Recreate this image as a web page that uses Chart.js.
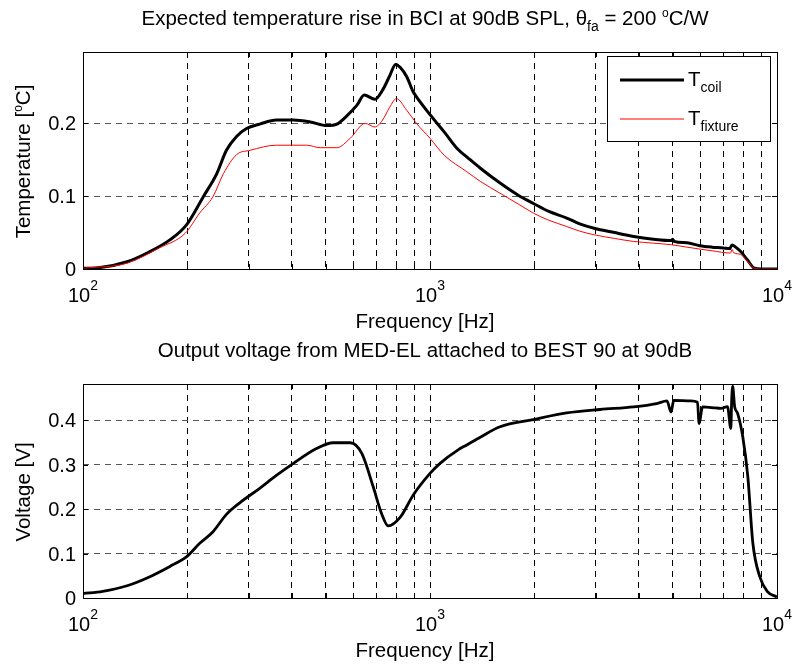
<!DOCTYPE html>
<html>
<head>
<meta charset="utf-8">
<script src="https://cdn.jsdelivr.net/npm/chart.js@4.4.1/dist/chart.umd.min.js"></script>
<style>
  body { margin: 0; background: #fff; }
  #wrap { position: relative; width: 792px; height: 664px; }
  canvas { position: absolute; left: 0; top: 0; }
</style>
</head>
<body>
<div id="wrap">
  <canvas id="topChart" width="792" height="664"></canvas>
  <canvas id="bottomChart" width="792" height="664"></canvas>
</div>
<script>
// x axis (log), shared by both plots
const xGridFreqs = [100, 200, 300, 400, 500, 600, 700, 800, 900,
                    1000, 2000, 3000, 4000, 5000, 6000, 7000, 8000, 9000, 10000];
const xDecades = [100, 1000, 10000];
const xDecadeExp = ['2', '3', '4'];

const tempTicks = [0, 0.1, 0.2];
const tempTickLabels = ['0', '0.1', '0.2'];
const voltTicks = [0, 0.1, 0.2, 0.3, 0.4];
const voltTickLabels = ['0', '0.1', '0.2', '0.3', '0.4'];

// T_coil (black)
const coilFreq = [100, 112, 134, 153, 178, 199, 222, 243, 259, 277, 296, 323, 361, 404, 451, 505, 539,
                  575, 616, 646, 694, 730, 765, 796, 820, 857, 895, 914, 1000, 1100, 1205, 1276, 1400,
                  1592, 1800, 1986, 2200, 2477, 2700, 2971, 3400, 3866, 4400, 4966, 5000, 5050, 5500,
                  5985, 6500, 6998, 7300, 7420, 7600, 7860, 8200, 8616, 9000, 10000];
const coilTemp = [0.001, 0.002, 0.010, 0.022, 0.040, 0.061, 0.099, 0.131, 0.163, 0.182, 0.193, 0.199, 0.2045,
                  0.2045, 0.202, 0.197, 0.199, 0.210, 0.225, 0.239, 0.233, 0.2456, 0.265, 0.281, 0.277,
                  0.264, 0.243, 0.2365, 0.212, 0.188, 0.164, 0.154, 0.138, 0.118, 0.101, 0.090, 0.079,
                  0.070, 0.062, 0.056, 0.050, 0.0447, 0.041, 0.039, 0.041, 0.038, 0.036, 0.032, 0.030,
                  0.029, 0.028, 0.033, 0.030, 0.024, 0.013, 0.001, 0, 0];

// T_fixture (red)
const fixtureFreq = [100, 134, 166, 197, 217, 237, 254, 277, 303, 361, 441, 483, 539, 589, 650, 694, 730,
                     765, 800, 857, 914, 1000, 1100, 1276, 1400, 1592, 1800, 1986, 2200, 2477, 2700, 2971,
                     3400, 3866, 4400, 4966, 5500, 5985, 6500, 7350, 7420, 7500, 7860, 8200, 8616, 9000, 10000];
const fixtureTemp = [0.001, 0.008, 0.029, 0.049, 0.077, 0.0995, 0.131, 0.157, 0.163, 0.170, 0.170, 0.1666,
                     0.1666, 0.1795, 0.200, 0.195, 0.2045, 0.222, 0.234, 0.218, 0.200, 0.1795, 0.156, 0.1337,
                     0.120, 0.104, 0.089, 0.0767, 0.067, 0.0584, 0.052, 0.047, 0.042, 0.0378, 0.0355, 0.0333,
                     0.030, 0.0274, 0.025, 0.0219, 0.027, 0.0225, 0.020, 0.011, 0.001, 0, 0];

// output voltage (black)
const voltFreq = [100, 114, 134, 153, 178, 199, 217, 237, 259, 283, 323, 360, 404, 471, 526, 589, 636, 686,
                  725, 758, 820, 895, 1000, 1069, 1205, 1276, 1400, 1592, 1986, 2477, 3090, 3866, 4500,
                  4820, 4950, 5040, 5643, 5900, 5963, 6100, 6500, 6903, 7200, 7361, 7400, 7450, 7550, 7700,
                  7970, 8240, 8520, 8920, 9370, 10000];
const voltage = [0.010, 0.015, 0.0276, 0.045, 0.071, 0.093, 0.123, 0.149, 0.188, 0.214, 0.2466, 0.275, 0.3027,
                 0.336, 0.349, 0.349, 0.325, 0.250, 0.190, 0.162, 0.181, 0.2316, 0.280, 0.3027, 0.333, 0.344,
                 0.362, 0.3848, 0.401, 0.416, 0.4237, 0.4296, 0.437, 0.443, 0.418, 0.444, 0.443, 0.440, 0.392,
                 0.4296, 0.428, 0.426, 0.430, 0.381, 0.440, 0.476, 0.430, 0.415, 0.362, 0.273, 0.123, 0.048,
                 0.015, 0.002];

const FONT = '"Liberation Sans", Arial, Helvetica, sans-serif';
const TICK_SIZE = 20, LABEL_SIZE = 20.5, SMALL = 14, DEG = 12;

const toPoints = (xs, ys) => xs.map((x, i) => ({x: x, y: ys[i]}));

// text with sub/superscripts, parts = [[text, ''|'sub'|'sup'|'deg'], ...]
function drawRich(ctx, parts, x, y, align, size) {
  const big = size || LABEL_SIZE;
  const sizeFor = k => k === 'deg' ? DEG : k ? SMALL : big;
  const shift = {'': 0, sub: 6, sup: -12, deg: -8};
  let w = 0;
  parts.forEach(([t, k]) => { ctx.font = sizeFor(k) + 'px ' + FONT; w += ctx.measureText(t).width; });
  let cx = align === 'center' ? x - w / 2 : align === 'right' ? x - w : x;
  ctx.textAlign = 'left';
  ctx.textBaseline = 'alphabetic';
  parts.forEach(([t, k]) => {
    ctx.font = sizeFor(k) + 'px ' + FONT;
    ctx.fillText(t, cx, y + shift[k]);
    cx += ctx.measureText(t).width;
  });
}

const matlabAxes = {
  id: 'matlabAxes',
  afterDraw(chart, args, opts) {
    const {ctx, chartArea: a, scales: {x, y}} = chart;
    ctx.save();
    ctx.strokeStyle = '#000';
    ctx.fillStyle = '#000';
    ctx.lineWidth = 1;

    // tick marks, inside, all four sides
    ctx.beginPath();
    xGridFreqs.forEach(f => {
      const px = Math.round(x.getPixelForValue(f)) + 0.5;
      ctx.moveTo(px, a.bottom); ctx.lineTo(px, a.bottom - 5);
      ctx.moveTo(px, a.top); ctx.lineTo(px, a.top + 5);
    });
    opts.yTicks.forEach(v => {
      const py = Math.round(y.getPixelForValue(v)) + 0.5;
      ctx.moveTo(a.left, py); ctx.lineTo(a.left + 5, py);
      ctx.moveTo(a.right, py); ctx.lineTo(a.right - 5, py);
    });
    ctx.stroke();
    ctx.strokeRect(Math.round(a.left) + 0.5, Math.round(a.top) + 0.5,
                   Math.round(a.right - a.left), Math.round(a.bottom - a.top));

    // tick labels
    xDecades.forEach((f, i) => {
      drawRich(ctx, [['10', ''], [xDecadeExp[i], 'sup']], x.getPixelForValue(f), a.bottom + 33, 'center', TICK_SIZE);
    });
    ctx.font = TICK_SIZE + 'px ' + FONT;
    ctx.textAlign = 'right';
    opts.yTicks.forEach((v, i) => {
      ctx.fillText(opts.yLabels[i], a.left - 7, y.getPixelForValue(v) + 7);
    });

    // titles and axis labels (MATLAB centres them slightly left of the axes middle)
    const mid = (a.left + a.right) / 2 - 5;
    drawRich(ctx, opts.title, mid, a.top - 27, 'center');
    drawRich(ctx, [['Frequency [Hz]', '']], mid, a.bottom + 59, 'center');
    ctx.save();
    ctx.translate(30, (a.top + a.bottom) / 2 + 1);
    ctx.rotate(-Math.PI / 2);
    drawRich(ctx, opts.yTitle, 0, 0, 'center');
    ctx.restore();

    // legend
    if (opts.legend) {
      ctx.fillStyle = '#fff';
      ctx.fillRect(608, 57, 162, 84);
      ctx.strokeRect(607.5, 56.5, 163, 85);
      ctx.fillStyle = '#000';
      opts.legend.forEach((item, i) => {
        const ly = 80 + i * 39;
        ctx.beginPath();
        ctx.strokeStyle = item.color;
        ctx.lineWidth = item.width;
        ctx.moveTo(620, ly); ctx.lineTo(684, ly);
        ctx.stroke();
        drawRich(ctx, [['T', ''], [item.sub, 'sub']], 688, ly + 6, 'left');
      });
    }
    ctx.restore();
  }
};

function baseScales(yMax, yTicks) {
  return {
    x: {
      type: 'logarithmic', min: 100, max: 10000,
      afterBuildTicks: s => { s.ticks = xGridFreqs.map(v => ({value: v})); },
      ticks: {display: false, autoSkip: false},
      grid: {color: '#000', lineWidth: 1, drawTicks: false},
      border: {display: false, dash: [6, 5]}
    },
    y: {
      type: 'linear', min: 0, max: yMax,
      afterBuildTicks: s => { s.ticks = yTicks.map(v => ({value: v})); },
      ticks: {display: false},
      grid: {color: '#555', lineWidth: 1, drawTicks: false},
      border: {display: false, dash: [6, 5]}
    }
  };
}

const lineStyle = {pointRadius: 0, fill: false, cubicInterpolationMode: 'monotone'};

new Chart(document.getElementById('topChart'), {
  type: 'line',
  data: {
    datasets: [
      Object.assign({label: 'T_fixture', data: toPoints(fixtureFreq, fixtureTemp),
                     borderColor: '#ff0000', borderWidth: 1}, lineStyle),
      Object.assign({label: 'T_coil', data: toPoints(coilFreq, coilTemp),
                     borderColor: '#000', borderWidth: 3}, lineStyle)
    ]
  },
  options: {
    responsive: false, animation: false, events: [],
    layout: {padding: {left: 83, right: 15, top: 52, bottom: 395}},
    plugins: {
      legend: {display: false}, tooltip: {enabled: false},
      matlabAxes: {
        yTicks: tempTicks, yLabels: tempTickLabels,
        title: [['Expected temperature rise in BCI at 90dB SPL, θ', ''], ['fa', 'sub'],
                [' = 200 ', ''], ['o', 'deg'], ['C/W', '']],
        yTitle: [['Temperature [', ''], ['o', 'deg'], ['C]', '']],
        legend: [{color: '#000', width: 3, sub: 'coil'}, {color: '#ff0000', width: 1, sub: 'fixture'}]
      }
    },
    scales: baseScales(0.298, tempTicks)
  },
  plugins: [matlabAxes]
});

new Chart(document.getElementById('bottomChart'), {
  type: 'line',
  data: {
    datasets: [
      Object.assign({label: 'Voltage', data: toPoints(voltFreq, voltage),
                     borderColor: '#000', borderWidth: 2.8}, lineStyle)
    ]
  },
  options: {
    responsive: false, animation: false, events: [],
    layout: {padding: {left: 83, right: 15, top: 384, bottom: 66}},
    plugins: {
      legend: {display: false}, tooltip: {enabled: false},
      matlabAxes: {
        yTicks: voltTicks, yLabels: voltTickLabels,
        title: [['Output voltage from MED-EL attached to BEST 90 at 90dB', '']],
        yTitle: [['Voltage [V]', '']],
        legend: null
      }
    },
    scales: baseScales(0.481, voltTicks)
  },
  plugins: [matlabAxes]
});
</script>
</body>
</html>
